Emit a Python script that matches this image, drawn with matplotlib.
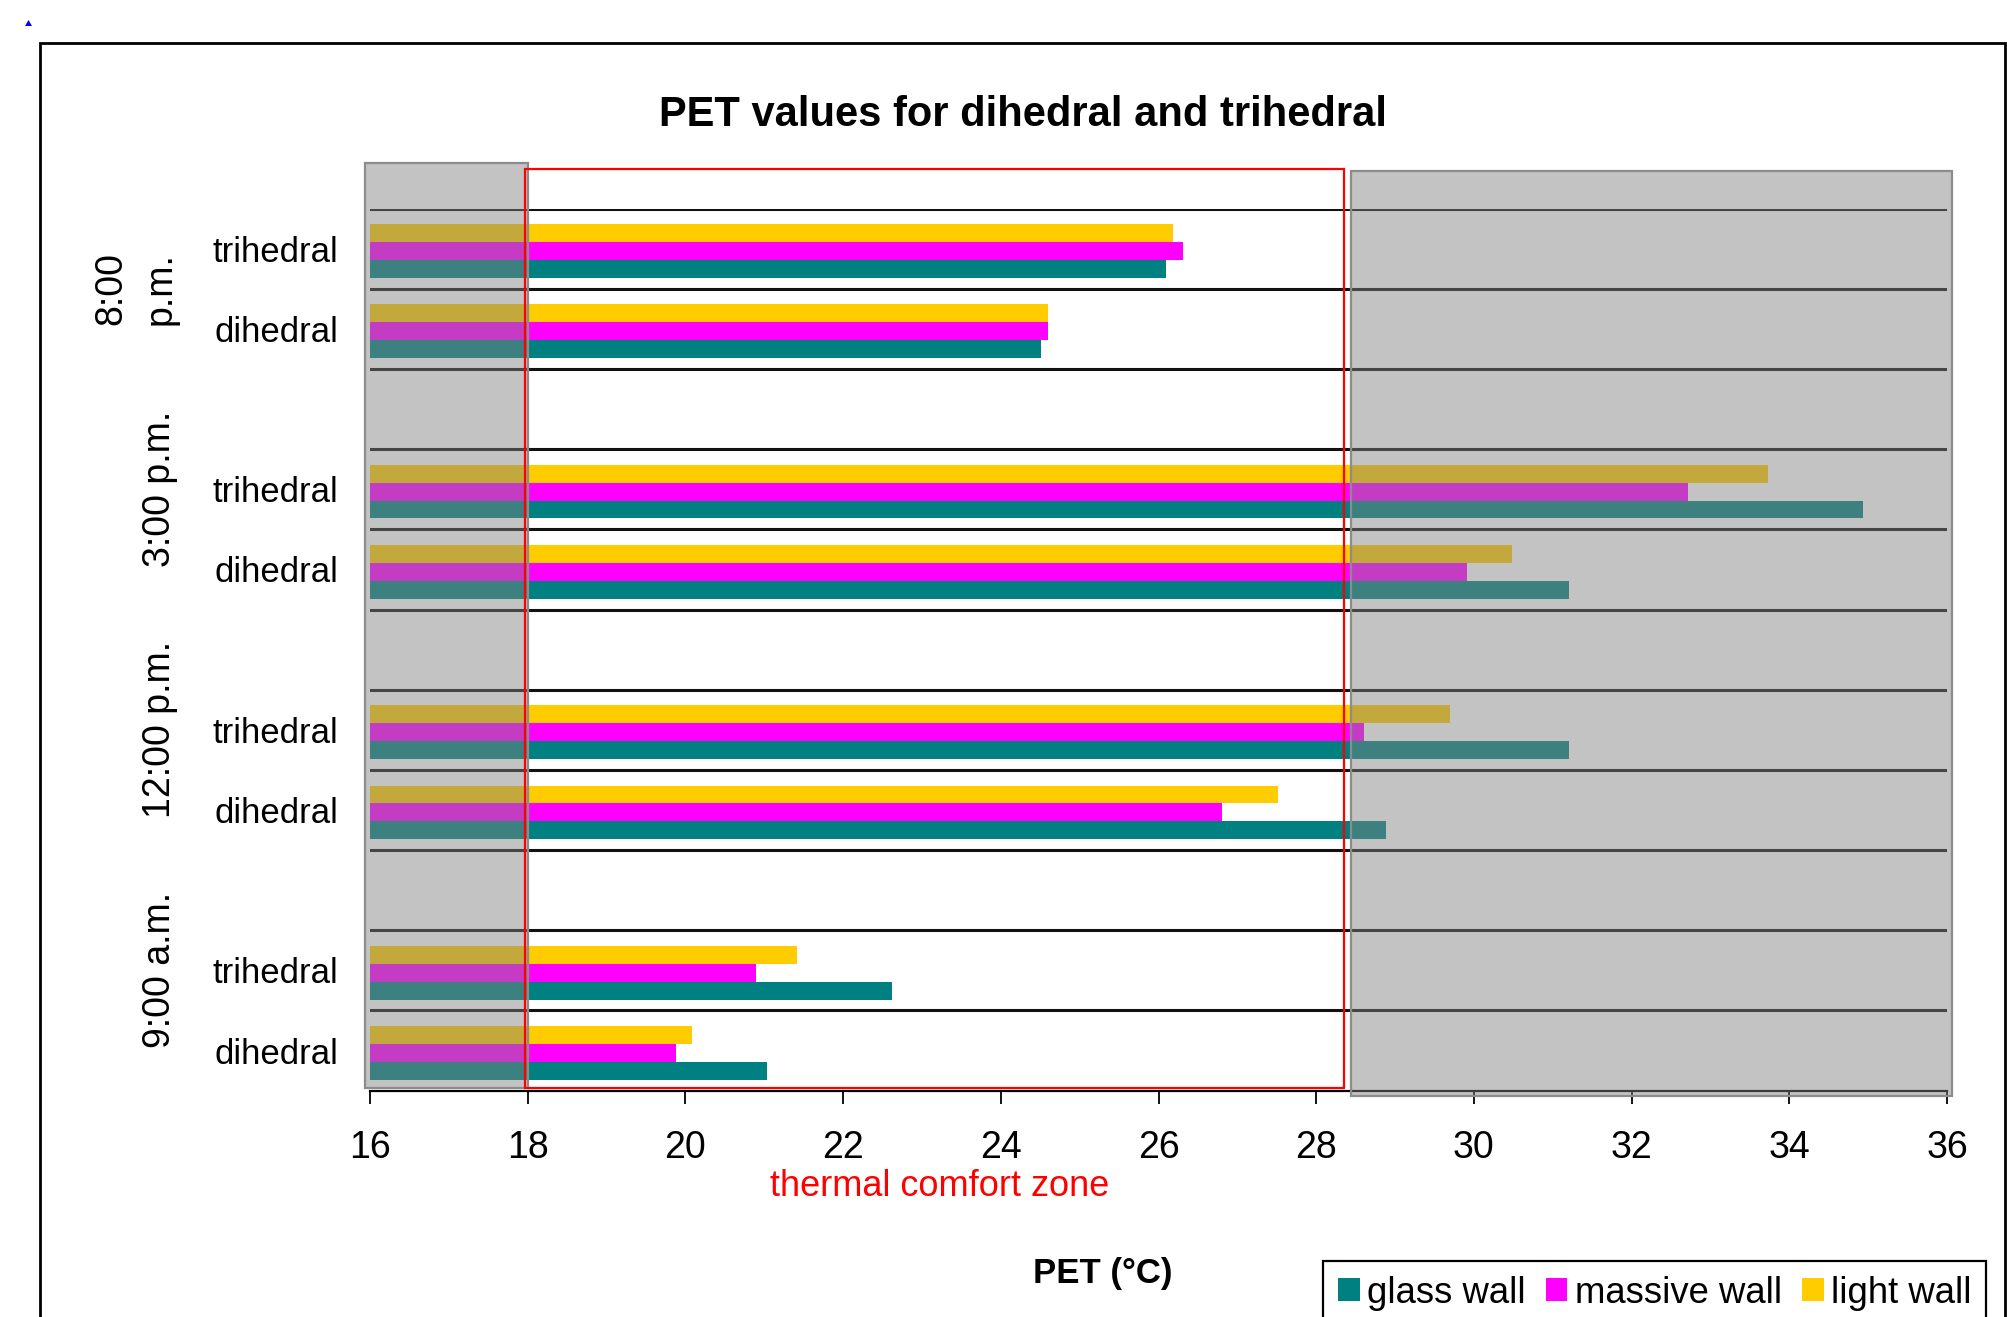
import numpy as np
import matplotlib
matplotlib.use("Agg")
import matplotlib.pyplot as plt
import matplotlib.transforms as mtransforms
import matplotlib.font_manager as fm
from matplotlib.patches import Rectangle, Polygon

# ---------------- data ----------------
times = ["9:00 a.m.", "12:00 p.m.", "3:00 p.m.", "8:00 p.m."]
configs = ["dihedral", "trihedral"]
series_names = ["glass wall", "massive wall", "light wall"]
# order: 9am di, 9am tri, 12pm di, 12pm tri, 3pm di, 3pm tri, 8pm di, 8pm tri
glass_wall = [21.03, 22.62, 28.89, 31.21, 31.21, 34.93, 24.51, 26.10]
massive_wall = [19.88, 20.90, 26.81, 28.60, 29.91, 32.72, 24.60, 26.31]
light_wall = [20.09, 21.41, 27.51, 29.70, 30.48, 33.73, 24.60, 26.19]
x_ticks = list(range(16, 37, 2))
comfort_low, comfort_high = 18.0, 28.35
hot_low = 28.44

# ---------------- fonts ----------------
def has_font(name):
    try:
        fm.findfont(fm.FontProperties(family=name), fallback_to_default=False)
        return True
    except Exception:
        return False

base = "Liberation Sans" if has_font("Liberation Sans") else "DejaVu Sans"
narrow = "Liberation Sans Narrow" if has_font("Liberation Sans Narrow") else base
plt.rcParams["font.family"] = [base, "DejaVu Sans"]

W, H = 2007, 1317
fig = plt.figure(figsize=(W / 100, H / 100), dpi=100)
fig.patch.set_facecolor("white")

ax_left, ax_right, ax_top, ax_bottom = 370, 1947, 208.6, 1090.6
ax = fig.add_axes([ax_left / W, 1 - ax_bottom / H,
                   (ax_right - ax_left) / W, (ax_bottom - ax_top) / H])

# positions: each time group has 2 rows + 1 blank row above (except last)
n_rows = 3 * len(times) - 1
ys = []
row_labels = []
for g in range(len(times)):
    for c, cfg in enumerate(configs):
        ys.append(3 * g + c)
        row_labels.append(cfg)
ys = np.array(ys, dtype=float)

teal, magenta, yellow = "#008080", "#FF00FF", "#FFCC00"
bh = 0.223
yb = ys - 0.03
ax.barh(yb - bh, glass_wall, height=bh, color=teal, linewidth=0,
        label=series_names[0], zorder=2)
ax.barh(yb, massive_wall, height=bh, color=magenta, linewidth=0,
        label=series_names[1], zorder=2)
ax.barh(yb + bh, light_wall, height=bh, color=yellow, linewidth=0,
        label=series_names[2], zorder=2)

ax.set_xlim(x_ticks[0], x_ticks[-1])
ax.set_ylim(-0.5, n_rows - 0.5)
ax.set_xticks(x_ticks)
ax.set_yticks(ys)
ax.set_yticklabels(row_labels, fontsize=25)
ax.set_yticks(np.arange(0.5, n_rows, 1.0), minor=True)
ax.grid(which="minor", axis="y", color="#111111", linewidth=2.2, zorder=1)
ax.set_axisbelow(True)
ax.tick_params(axis="y", which="both", length=0, pad=23)
ax.tick_params(axis="x", direction="out", length=9.5, width=1.3, pad=19,
               labelsize=27, color="black")
for lab in ax.get_xticklabels():
    lab.set_fontfamily([narrow, "DejaVu Sans"])

for s in ["top", "right", "left"]:
    ax.spines[s].set_visible(False)
ax.spines["bottom"].set_linewidth(1.6)
ax.spines["bottom"].set_color("black")
ax.set_facecolor("white")

# group labels (rotated)
tr = mtransforms.blended_transform_factory(fig.transFigure, ax.transData)
for g, t in enumerate(times):
    rows = [r for r in range(3 * g, 3 * g + 3) if r <= n_rows - 1]
    center = (rows[0] + rows[-1]) / 2
    if len(rows) < 3:
        txt = t.replace(" ", "\n")
        ax.text(136 / W, center, txt, transform=tr, rotation=90, ha="center",
                va="center", fontsize=27, linespacing=1.45, multialignment="center")
    else:
        ax.text(160 / W, center, t, transform=tr, rotation=90, ha="center",
                va="center", fontsize=27)

# shaded zones (cold / hot) and comfort-zone frame
ax.add_patch(Rectangle((15.94, -0.47), comfort_low - 15.94, 11.07 + 0.47,
                       facecolor=(0.5, 0.5, 0.5, 0.47), edgecolor="#8c8c8c",
                       linewidth=1.6, clip_on=False, zorder=3))
ax.add_patch(Rectangle((hot_low, -0.57), 36.06 - hot_low, 10.97 + 0.57,
                       facecolor=(0.5, 0.5, 0.5, 0.47), edgecolor="#8c8c8c",
                       linewidth=1.6, clip_on=False, zorder=3))
ax.add_patch(Rectangle((comfort_low - 0.04, -0.47), comfort_high - comfort_low + 0.04,
                       10.99 + 0.47, fill=False, edgecolor="#FF0000",
                       linewidth=1.6, clip_on=False, zorder=4))

# texts
fig.text(1023 / W, 1 - 115 / H, "PET values for dihedral and trihedral",
         ha="center", va="center", fontsize=30, fontweight="bold")
fig.text(940 / W, 1 - 1186 / H, "thermal comfort zone", ha="center",
         va="center", fontsize=26, color="#FF0000")
fig.text(1103 / W, 1 - 1273 / H, "PET (°C)", ha="center", va="center",
         fontsize=25, fontweight="bold")

# legend
leg = ax.legend(loc="upper left", bbox_to_anchor=(1323 / W, 1 - 1261 / H),
                bbox_transform=fig.transFigure, ncol=3, fontsize=26.3,
                frameon=True, fancybox=False, edgecolor="black", framealpha=1,
                borderpad=0.4, borderaxespad=0, handlelength=0.6,
                handleheight=0.6, handletextpad=0.2, columnspacing=0.55)
leg.get_frame().set_linewidth(1.6)

# chart-area border and small blue mark
fig.patches.append(Rectangle((40 / W, -0.1), (2005 - 40) / W, 1 - 43 / H + 0.1,
                             transform=fig.transFigure, fill=False,
                             edgecolor="black", linewidth=2))
fig.patches.append(Polygon([(25 / W, 1 - 26 / H), (32 / W, 1 - 26 / H),
                            (28.5 / W, 1 - 20 / H)], closed=True,
                           transform=fig.transFigure, facecolor="#0000FF",
                           edgecolor="none"))

fig.savefig("out.png", dpi=100, facecolor="white")
